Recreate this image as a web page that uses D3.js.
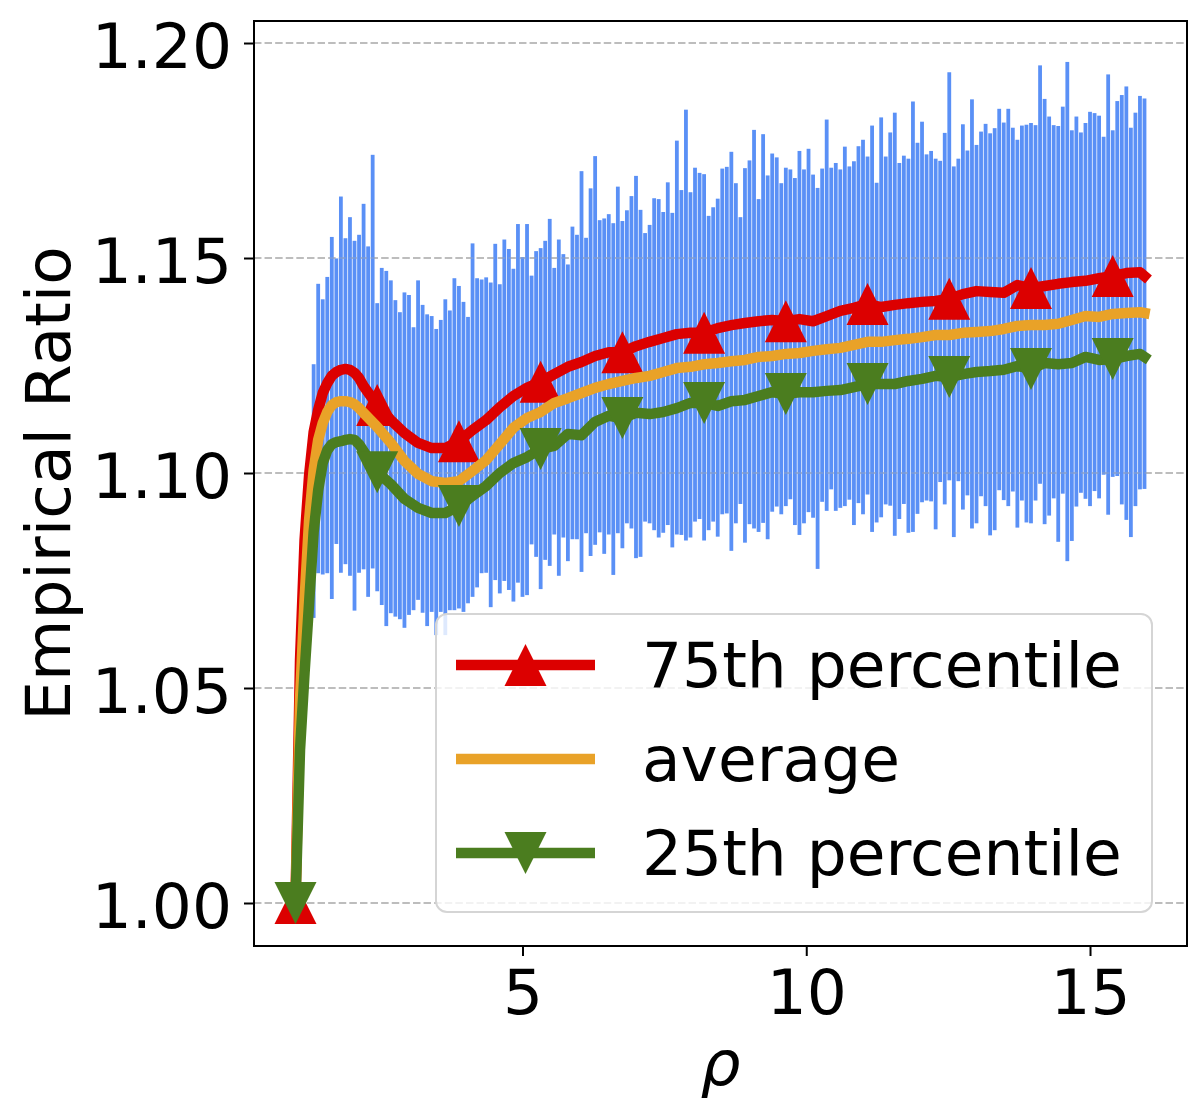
<!DOCTYPE html>
<html><head><meta charset="utf-8">
<script src="https://cdn.jsdelivr.net/npm/d3@7"></script>
<style>body{margin:0;background:#fff} svg{display:block} text{font-family:"DejaVu Sans",sans-serif}</style>
</head><body><svg id="c" width="1204" height="1120"></svg>
<script>
// rho sample positions of the error bars
const rho = [
1.00,1.08,1.16,1.24,1.32,1.40,1.48,1.56,1.64,1.72,1.80,1.88,1.96,2.04,2.12,2.20,2.28,2.36,2.44,2.52,2.60,2.68,2.76,2.84,2.92,
3.00,3.08,3.16,3.24,3.32,3.40,3.48,3.56,3.64,3.72,3.80,3.88,3.96,4.04,4.12,4.20,4.28,4.36,4.44,4.52,4.60,4.68,4.76,4.84,4.92,
5.00,5.08,5.16,5.24,5.32,5.40,5.48,5.56,5.64,5.72,5.80,5.88,5.96,6.04,6.12,6.20,6.28,6.36,6.44,6.52,6.60,6.68,6.76,6.84,6.92,
7.00,7.08,7.16,7.24,7.32,7.40,7.48,7.56,7.64,7.72,7.80,7.88,7.96,8.04,8.12,8.20,8.28,8.36,8.44,8.52,8.60,8.68,8.76,8.84,8.92,
9.00,9.08,9.16,9.24,9.32,9.40,9.48,9.56,9.64,9.72,9.80,9.88,9.96,10.04,10.12,10.20,10.28,10.36,10.44,10.52,10.60,10.68,10.76,10.84,10.92,
11.00,11.08,11.16,11.24,11.32,11.40,11.48,11.56,11.64,11.72,11.80,11.88,11.96,12.04,12.12,12.20,12.28,12.36,12.44,12.52,12.60,12.68,12.76,12.84,12.92,
13.00,13.08,13.16,13.24,13.32,13.40,13.48,13.56,13.64,13.72,13.80,13.88,13.96,14.04,14.12,14.20,14.28,14.36,14.44,14.52,14.60,14.68,14.76,14.84,14.92,
15.00,15.08,15.16,15.24,15.32,15.40,15.48,15.56,15.64,15.72,15.80,15.88,15.96];

const errTop = [
1.0000,1.0705,1.0851,1.1049,1.1253,1.1440,1.1404,1.1456,1.1549,1.1499,1.1643,1.1546,1.1595,1.1540,1.1554,1.1626,1.1527,1.1740,1.1395,1.1477,1.1470,1.1448,1.1402,1.1374,1.1420,
1.1414,1.1339,1.1448,1.1391,1.1369,1.1365,1.1335,1.1356,1.1404,1.1378,1.1453,1.1435,1.1398,1.1363,1.1534,1.1453,1.1450,1.1455,1.1443,1.1533,1.1439,1.1543,1.1521,1.1475,1.1579,
1.1502,1.1579,1.1459,1.1516,1.1523,1.1540,1.1591,1.1477,1.1543,1.1509,1.1485,1.1573,1.1554,1.1702,1.1547,1.1662,1.1737,1.1588,1.1592,1.1602,1.1581,1.1666,1.1586,1.1611,1.1644,
1.1691,1.1612,1.1558,1.1577,1.1639,1.1637,1.1607,1.1676,1.1605,1.1773,1.1658,1.1845,1.1653,1.1710,1.1698,1.1695,1.1598,1.1618,1.1638,1.1708,1.1712,1.1747,1.1674,1.1595,1.1709,
1.1727,1.1798,1.1637,1.1788,1.1692,1.1743,1.1734,1.1674,1.1710,1.1706,1.1686,1.1749,1.1706,1.1754,1.1694,1.1663,1.1708,1.1822,1.1710,1.1721,1.1706,1.1759,1.1713,1.1725,1.1760,
1.1775,1.1736,1.1808,1.1675,1.1827,1.1736,1.1792,1.1838,1.1721,1.1738,1.1731,1.1864,1.1768,1.1817,1.1741,1.1749,1.1731,1.1726,1.1791,1.1932,1.1713,1.1731,1.1811,1.1750,1.1869,
1.1763,1.1794,1.1812,1.1790,1.1802,1.1847,1.1815,1.1847,1.1803,1.1775,1.1808,1.1810,1.1814,1.1809,1.1948,1.1870,1.1829,1.1809,1.1807,1.1852,1.1956,1.1797,1.1829,1.1792,1.1814,
1.1840,1.1837,1.1831,1.1782,1.1927,1.1797,1.1865,1.1879,1.1899,1.1803,1.1838,1.1877,1.1871];

const errBottom = [
1.0000,1.0472,1.0565,1.0609,1.0663,1.0767,1.0764,1.0767,1.0707,1.0835,1.0768,1.0788,1.0761,1.0680,1.0768,1.0776,1.0712,1.0778,1.0725,1.0693,1.0644,1.0674,1.0666,1.0660,1.0640,
1.0670,1.0681,1.0705,1.0675,1.0644,1.0677,1.0623,1.0677,1.0623,1.0681,1.0681,1.0685,1.0677,1.0697,1.0712,1.0734,1.0767,1.0768,1.0688,1.0751,1.0720,1.0749,1.0728,1.0701,1.0745,
1.0712,1.0716,1.0834,1.0805,1.0730,1.0798,1.0784,1.0857,1.0761,1.0850,1.0795,1.0846,1.0846,1.0770,1.0860,1.0807,1.0833,1.0862,1.0812,1.0857,1.0763,1.0860,1.0825,1.0883,1.0871,
1.0802,1.0805,1.0887,1.0883,1.0867,1.0850,1.0861,1.0879,1.0827,1.0857,1.0856,1.0843,1.0850,1.0887,1.0893,1.0843,1.0867,1.0887,1.0852,1.0904,1.0906,1.0819,1.0883,1.0928,1.0838,
1.0881,1.0871,1.0863,1.0884,1.0846,1.0910,1.0922,1.0904,1.0923,1.0939,1.0879,1.0856,1.0883,1.0909,1.0896,1.0777,1.0933,1.0912,1.0962,1.0912,1.0919,1.0923,1.0938,1.0879,1.0930,
1.0904,1.0950,1.0863,1.0885,1.0897,1.0927,1.0924,1.0854,1.0893,1.0928,1.0861,1.0863,1.0905,1.0932,1.0936,1.0934,1.0869,1.0979,1.0927,1.0983,1.0851,1.0981,1.0915,1.0948,1.0871,
1.0883,1.0946,1.0923,1.0855,1.0867,1.0960,1.0937,1.0923,1.0957,1.0873,1.0936,1.0885,1.0883,1.0936,1.0975,1.0881,1.0901,1.0941,1.0840,1.0952,1.0795,1.0842,1.0922,1.0954,1.0940,
1.0923,1.0958,1.0941,1.0996,1.0903,1.0991,1.0993,1.0927,1.0891,1.0851,1.0923,1.0962,1.0963];

// rho positions of the three percentile / average curves
const lineRho = [
1.00,1.08,1.16,1.24,1.32,1.40,1.48,1.56,1.64,1.72,1.80,1.88,1.96,2.04,2.12,2.20,
2.44,2.68,2.92,3.16,3.40,3.64,3.88,4.12,4.36,4.60,
4.84,5.08,5.32,5.56,5.80,6.04,6.28,6.52,6.76,7.00,
7.24,7.48,7.72,7.96,8.20,8.44,8.68,8.92,9.16,9.40,
9.64,9.88,10.12,10.36,10.60,10.84,11.08,11.32,11.56,11.80,
12.04,12.28,12.52,12.76,13.00,13.24,13.48,13.72,13.96,14.20,
14.44,14.68,14.92,15.16,15.40,15.64,15.88,15.96];

const p75 = [
1.0000,1.0565,1.0844,1.0995,1.1095,1.1147,1.1186,1.1209,1.1226,1.1235,1.1240,1.1242,1.1240,1.1233,1.1221,1.1202,
1.1158,1.1123,1.1093,1.1070,1.1058,1.1058,1.1074,1.1100,1.1123,1.1153,
1.1179,1.1198,1.1212,1.1230,1.1247,1.1258,1.1272,1.1281,1.1281,1.1295,
1.1305,1.1314,1.1323,1.1326,1.1326,1.1337,1.1344,1.1349,1.1353,1.1356,
1.1353,1.1358,1.1353,1.1365,1.1377,1.1384,1.1393,1.1386,1.1391,1.1395,
1.1398,1.1400,1.1405,1.1416,1.1423,1.1421,1.1419,1.1437,1.1430,1.1435,
1.1440,1.1444,1.1447,1.1453,1.1458,1.1465,1.1467,1.1458];

const avg = [
1.0000,1.0472,1.0705,1.0891,1.1007,1.1077,1.1116,1.1142,1.1158,1.1165,1.1167,1.1167,1.1165,1.1160,1.1151,1.1140,
1.1107,1.1070,1.1028,1.0998,1.0981,1.0977,1.0981,1.1005,1.1030,1.1067,
1.1105,1.1128,1.1142,1.1163,1.1174,1.1186,1.1198,1.1207,1.1214,1.1221,
1.1226,1.1235,1.1244,1.1247,1.1253,1.1256,1.1260,1.1263,1.1270,1.1272,
1.1277,1.1279,1.1284,1.1288,1.1291,1.1298,1.1305,1.1305,1.1309,1.1312,
1.1316,1.1321,1.1321,1.1326,1.1328,1.1330,1.1335,1.1342,1.1344,1.1344,
1.1347,1.1356,1.1365,1.1363,1.1370,1.1372,1.1374,1.1372];

const p25 = [
1.0000,1.0356,1.0535,1.0698,1.0863,1.0960,1.1023,1.1053,1.1067,1.1072,1.1074,1.1077,1.1079,1.1077,1.1067,1.1051,
1.1002,1.0974,1.0940,1.0919,1.0907,1.0907,1.0923,1.0947,1.0970,1.1000,
1.1023,1.1037,1.1056,1.1063,1.1091,1.1088,1.1119,1.1133,1.1128,1.1140,
1.1137,1.1142,1.1151,1.1163,1.1163,1.1156,1.1167,1.1170,1.1179,1.1188,
1.1184,1.1188,1.1188,1.1191,1.1193,1.1200,1.1207,1.1207,1.1207,1.1214,
1.1219,1.1226,1.1223,1.1230,1.1235,1.1237,1.1240,1.1249,1.1242,1.1256,
1.1253,1.1256,1.1270,1.1263,1.1265,1.1272,1.1277,1.1270];

const markerRho = [1.00, 2.44, 3.88, 5.32, 6.76, 8.20, 9.64, 11.08, 12.52, 13.96, 15.40];
const yTicks = [1.00, 1.05, 1.10, 1.15, 1.20];
const xTicks = [5, 10, 15];
const legendLabels = ["75th percentile", "average", "25th percentile"];

const svg = d3.select("#c");
const L = 254, R = 1187, T = 21, B = 946;
const FS = 63;
const x = d3.scaleLinear().domain([0.269, 16.709]).range([L, R]);
const y = d3.scaleLinear().domain([0.99, 1.20512]).range([B, T]);

// grid under bars
const gridG = svg.append("g");
yTicks.forEach(t => {
  gridG.append("line").attr("x1", L).attr("x2", R).attr("y1", y(t)).attr("y2", y(t))
    .attr("stroke", "#b0b0b0").attr("stroke-width", 1.6).attr("stroke-dasharray", "7.4,3.2");
});

// error bars
svg.append("g").selectAll("rect").data(rho).join("rect")
  .attr("x", d => x(d) - 1.9)
  .attr("width", 3.8)
  .attr("y", (d, i) => y(errTop[i]))
  .attr("height", (d, i) => Math.max(0, y(errBottom[i]) - y(errTop[i])))
  .attr("fill", "#5a90f6");

// faint grid over bars
const grid2 = svg.append("g");
yTicks.forEach(t => {
  grid2.append("line").attr("x1", L).attr("x2", R).attr("y1", y(t)).attr("y2", y(t))
    .attr("stroke", "#b0b0b0").attr("stroke-opacity", 0.4).attr("stroke-width", 1.6).attr("stroke-dasharray", "7.4,3.2");
});

const up = "M0,-21L21,21L-21,21Z";
const down = "M0,21L21,-21L-21,-21Z";
const series = [
  {vals: p75, color: "#dc0000", marker: up},
  {vals: avg, color: "#e9a228", marker: null},
  {vals: p25, color: "#4b7d1f", marker: down}
];
const line = d3.line().x(d => x(d[0])).y(d => y(d[1]));
series.forEach(s => {
  const pts = lineRho.map((r, i) => [r, s.vals[i]]);
  const g = svg.append("g");
  g.append("path").attr("d", line(pts)).attr("fill", "none").attr("stroke", s.color)
    .attr("stroke-width", 10.5).attr("stroke-linejoin", "round").attr("stroke-linecap", "square");
  if (s.marker) {
    markerRho.forEach(m => {
      const idx = lineRho.findIndex(v => Math.abs(v - m) < 1e-6);
      g.append("path").attr("d", s.marker).attr("fill", s.color)
        .attr("transform", `translate(${x(m)},${y(s.vals[idx])})`);
    });
  }
});

// frame
svg.append("rect").attr("x", L).attr("y", T).attr("width", R - L).attr("height", B - T)
  .attr("fill", "none").attr("stroke", "#000").attr("stroke-width", 2);

// axes
const ya = svg.append("g").attr("transform", `translate(${L},0)`)
  .call(d3.axisLeft(y).tickValues(yTicks).tickFormat(d3.format(".2f")).tickSize(10).tickPadding(12));
const xa = svg.append("g").attr("transform", `translate(0,${B})`)
  .call(d3.axisBottom(x).tickValues(xTicks).tickFormat(d3.format("d")).tickSize(10).tickPadding(13));
[ya, xa].forEach(a => {
  a.select(".domain").remove();
  a.selectAll(".tick line").attr("stroke", "#000").attr("stroke-width", 2);
  a.selectAll(".tick text").attr("font-size", FS).attr("fill", "#000").attr("font-family", "DejaVu Sans");
});
ya.selectAll(".tick text").attr("dy", 24);

// axis labels
svg.append("text").attr("transform", `translate(70,${(T + B) / 2}) rotate(-90)`)
  .attr("text-anchor", "middle").attr("font-size", FS).attr("fill", "#000").text("Empirical Ratio");
svg.append("text").attr("x", (L + R) / 2).attr("y", 1085).attr("text-anchor", "middle")
  .attr("font-size", FS).attr("font-style", "italic").attr("fill", "#000").text("ρ");

// legend
const lg = svg.append("g");
lg.append("rect").attr("x", 436).attr("y", 614).attr("width", 716).attr("height", 298)
  .attr("rx", 11).attr("fill", "#fff").attr("fill-opacity", 0.8)
  .attr("stroke", "#d5d5d5").attr("stroke-width", 2);
const rowsY = [665, 759, 853];
series.forEach((s, i) => {
  const ry = rowsY[i];
  lg.append("line").attr("x1", 456).attr("x2", 595).attr("y1", ry).attr("y2", ry)
    .attr("stroke", s.color).attr("stroke-width", 10.5);
  if (s.marker) lg.append("path").attr("d", s.marker).attr("fill", s.color)
    .attr("transform", `translate(525.5,${ry})`);
  lg.append("text").attr("x", 642).attr("y", ry + 22).attr("font-size", FS).attr("fill", "#000")
    .text(legendLabels[i]);
});
</script></body></html>
